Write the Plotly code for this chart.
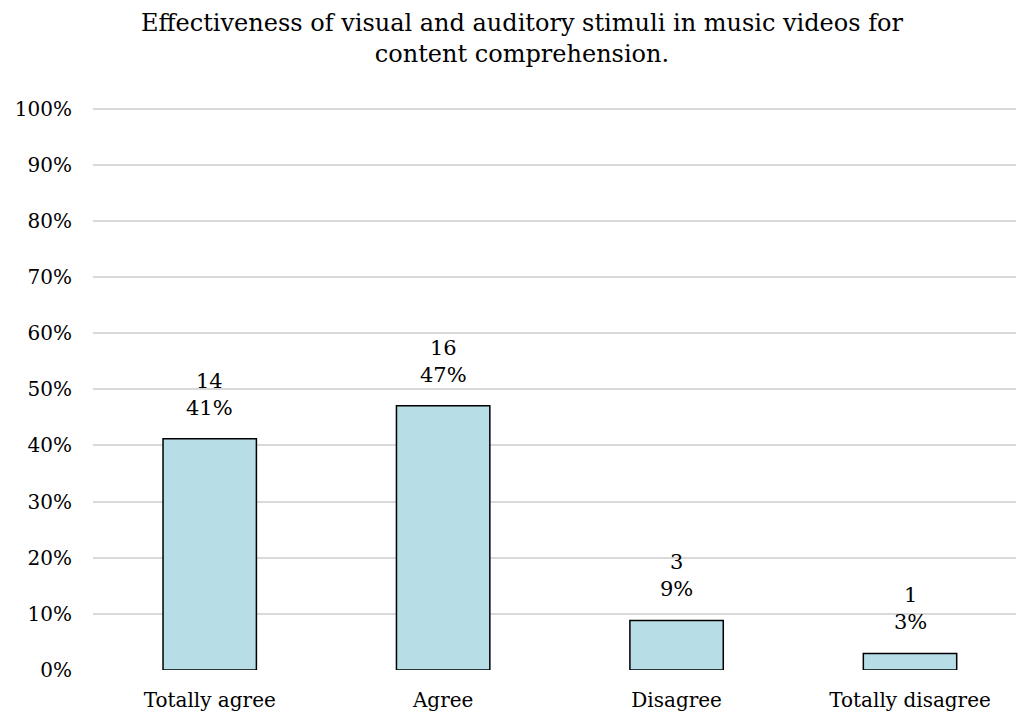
import plotly.graph_objects as go

# Survey responses
categories = ["Totally agree", "Agree", "Disagree", "Totally disagree"]
counts = [14, 16, 3, 1]
total = sum(counts)
shares = [c / total for c in counts]

y_ticks = [i / 10 for i in range(11)]
y_tick_labels = [f"{i * 10}%" for i in range(11)]

FONT = "DejaVu Serif"
W, H = 1016, 715
L, R, T, B = 93, 0, 107, 45
plot_w, plot_h = W - L - R, H - T - B

fig = go.Figure(
    go.Bar(
        x=list(range(len(categories))),
        y=shares,
        width=0.4,
        marker=dict(color="#B7DDE7", line=dict(color="#000000", width=1.5)),
        hoverinfo="skip",
    )
)

# Count and percentage above each bar
for i, (c, s) in enumerate(zip(counts, shares)):
    fig.add_annotation(
        x=i, y=s, xref="x", yref="y",
        text=f"{c}<br>{round(s * 100)}%",
        showarrow=False, yanchor="bottom", yshift=17,
        font=dict(family=FONT, size=21, color="#000000"),
    )

# Two-line chart title
fig.add_annotation(
    x=(522 - L) / plot_w, y=1 + (T - 7) / plot_h,
    xref="paper", yref="paper", xanchor="center", yanchor="top",
    text="Effectiveness of visual and auditory stimuli in music videos for<br>content comprehension.",
    showarrow=False,
    font=dict(family=FONT, size=24, color="#000000"),
)

fig.update_layout(
    width=W, height=H,
    margin=dict(l=L, r=R, t=T, b=B),
    paper_bgcolor="white", plot_bgcolor="white",
    showlegend=False,
    font=dict(family=FONT, size=20, color="#000000"),
    xaxis=dict(
        tickmode="array",
        tickvals=list(range(len(categories))),
        ticktext=categories,
        range=[-0.5, 3.454],
        showgrid=False, zeroline=False, showline=False,
        ticks="", ticklabelstandoff=16,
        tickfont=dict(family=FONT, size=20),
    ),
    yaxis=dict(
        range=[0, 1.003],
        tickmode="array", tickvals=y_ticks, ticktext=y_tick_labels,
        showgrid=True, gridcolor="#D9D9D9", gridwidth=1.5,
        zeroline=False, showline=False,
        ticks="", ticklabelstandoff=20,
        tickfont=dict(family=FONT, size=20),
    ),
)

fig.write_html("out.html")
